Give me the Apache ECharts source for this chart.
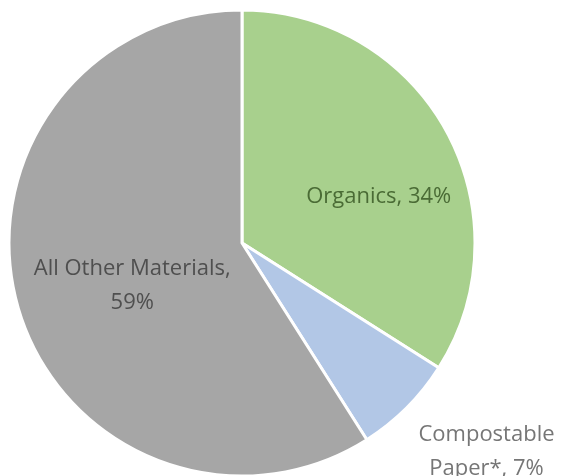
<!DOCTYPE html>
<html>
<head>
<meta charset="utf-8">
<script src="https://cdn.jsdelivr.net/npm/echarts@6/dist/echarts.min.js"></script>
<style>
  html, body { margin: 0; padding: 0; background: #fff; }
  #chart { width: 562px; height: 476px; }
</style>
</head>
<body>
<div id="chart"></div>
<script>
const categories = ["Organics", "Compostable Paper*", "All Other Materials"];
const shares = [34, 7, 59];
const sliceColors = ["#a8d08d", "#b2c7e6", "#a6a6a6"];
const labelColors = ["#4a6b35", "#767676", "#4f4f4f"];
const labelTexts = ["Organics, {c}%", "Compostable\nPaper*, {c}%", "All Other Materials,\n{c}%"];
// label nudges from the default inside spot
const labelOffsets = [[32, 11], [160, 124], [5, 9]];

const chart = echarts.init(document.getElementById("chart"));

const pieData = categories.map((name, i) => {
  return {
    name: name,
    value: shares[i],
    itemStyle: { color: sliceColors[i] },
    label: {
      color: labelColors[i],
      offset: labelOffsets[i],
      formatter: labelTexts[i]
    }
  };
});

chart.setOption({
  animation: false,
  series: [
    {
      type: "pie",
      center: [242, 243],
      radius: 233,
      startAngle: 90,
      clockwise: true,
      itemStyle: {
        borderColor: "#ffffff",
        borderWidth: 3
      },
      label: {
        show: true,
        position: "inside",
        fontFamily: "Open Sans",
        fontSize: 22,
        lineHeight: 34,
        align: "center"
      },
      labelLine: { show: false },
      emphasis: { disabled: true },
      data: pieData
    }
  ]
});
</script>
</body>
</html>
